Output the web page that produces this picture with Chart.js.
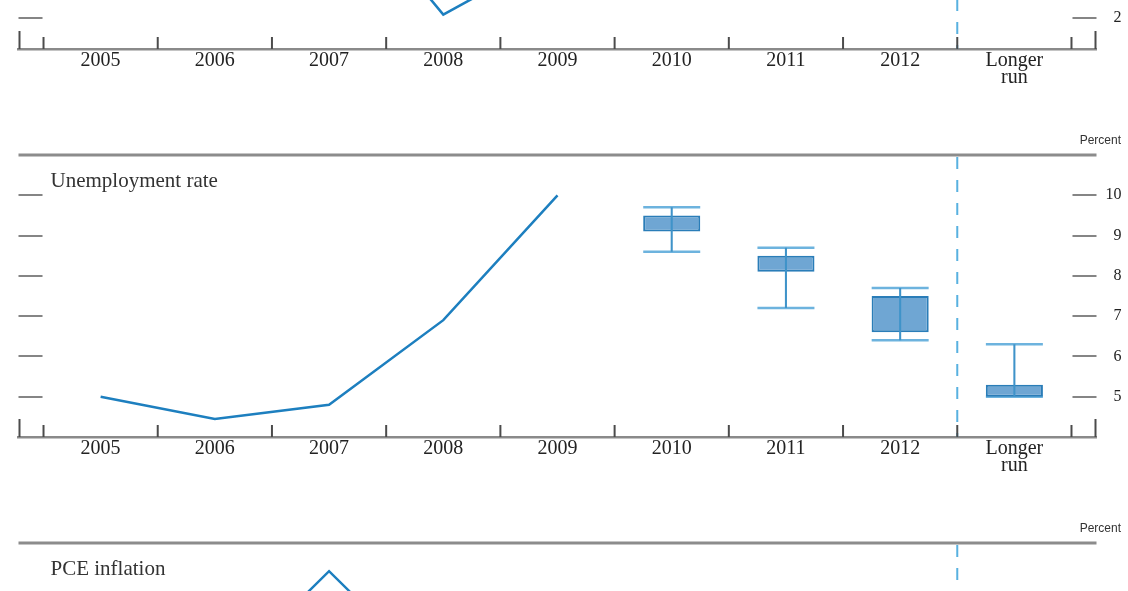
<!DOCTYPE html>
<html>
<head>
<meta charset="utf-8">
<script src="https://cdn.jsdelivr.net/npm/chart.js@4.4.1/dist/chart.umd.min.js"></script>
<style>
html, body { margin: 0; padding: 0; background: #fff; overflow: hidden; width: 1128px; height: 591px; }
canvas { position: absolute; left: 0; }
</style>
</head>
<body>
<canvas id="gdp" width="1128" height="388" style="top:-268px"></canvas>
<canvas id="unemp" width="1128" height="388" style="top:120px"></canvas>
<canvas id="pce" width="1128" height="388" style="top:508px"></canvas>
<script>
const categories = ['2005', '2006', '2007', '2008', '2009', '2010', '2011', '2012', 'Longer run'];
const projX = [5, 6, 7, 8];

// change in real GDP (only the bottom edge is in view)
const gdpHistory = [2.7, 2.4, 2.5, -1.9, 0.1];
const gdpCentralLow = [3.2, 3.4, 3.5, 2.5];
const gdpCentralHigh = [3.7, 4.5, 4.5, 2.8];
const gdpRangeLow = [2.7, 3.0, 2.8, 2.4];
const gdpRangeHigh = [4.0, 5.0, 5.0, 3.0];
const gdpTicks = [-2, -1, 0, 1, 2, 3, 4, 5];

// unemployment rate
const unempHistory = [5.0, 4.45, 4.8, 6.9, 10.0];
const unempCentralLow = [9.1, 8.1, 6.6, 5.0];
const unempCentralHigh = [9.5, 8.5, 7.5, 5.3];
const unempRangeLow = [8.6, 7.2, 6.4, 5.0];
const unempRangeHigh = [9.7, 8.7, 7.7, 6.3];
const unempTicks = [5, 6, 7, 8, 9, 10];

// PCE inflation (only the top edge is in view)
const pceHistory = [3.2, 2.0, 3.6, 2.0, 1.5];
const pceCentralLow = [1.2, 1.1, 1.2, 1.7];
const pceCentralHigh = [1.5, 1.9, 2.0, 2.0];
const pceRangeLow = [1.1, 0.9, 0.8, 1.5];
const pceRangeHigh = [2.0, 2.4, 2.3, 2.0];
const pceTicks = [1, 2, 3];

const LINE = '#1d7fbf';
const BOX_FILL = '#6fa6d3';
const BOX_EDGE = '#2a7db8';
const WHISKER = '#3f93c9';
const CAP = '#6db3de';
const SERIF = '"Liberation Serif", "Times New Roman", serif';

const decor = {
    id: 'decor',
    beforeDatasetsDraw(chart, args, opts) {
        const ctx = chart.ctx;
        const a = chart.chartArea;
        const x = chart.scales.x, y = chart.scales.y;
        const seg = (x1, y1, x2, y2) => { ctx.beginPath(); ctx.moveTo(x1, y1); ctx.lineTo(x2, y2); ctx.stroke(); };
        const first = x.getPixelForValue(-0.5);
        const last = x.getPixelForValue(categories.length - 0.5);
        ctx.save();
        ctx.lineCap = 'butt';

        // rule across the top of the panel
        ctx.strokeStyle = '#8c8c8c';
        ctx.lineWidth = 3;
        seg(a.left, a.top, a.right, a.top);

        // short dashes for the value ticks, both sides
        ctx.strokeStyle = '#858585';
        ctx.lineWidth = 2;
        y.ticks.forEach(t => {
            const py = Math.round(y.getPixelForValue(t.value));
            seg(a.left, py, first - 1, py);
            seg(last + 1, py, a.right, py);
        });

        // dashed divider before the longer run
        ctx.strokeStyle = '#58b1e0';
        ctx.setLineDash([12, 11]);
        const dx = x.getPixelForValue(categories.length - 1.5);
        seg(dx, a.top + 2, dx, a.bottom);
        ctx.setLineDash([]);

        // tick marks between the years
        ctx.strokeStyle = '#4b4b4b';
        ctx.lineWidth = 2;
        for (let i = 0; i <= categories.length; i++) {
            const px = x.getPixelForValue(i - 0.5);
            seg(px, a.bottom, px, a.bottom - 12);
        }
        seg(a.left + 1, a.bottom, a.left + 1, a.bottom - 18);
        seg(a.right - 1, a.bottom, a.right - 1, a.bottom - 18);

        // titles
        ctx.fillStyle = '#333';
        ctx.textBaseline = 'alphabetic';
        ctx.textAlign = 'left';
        ctx.font = '21px ' + SERIF;
        ctx.fillText(opts.title, a.left + 32, a.top + 32);
        ctx.font = '12px "Liberation Sans", Arial, sans-serif';
        ctx.textAlign = 'right';
        ctx.fillText('Percent', chart.width - 7, a.top - 11);
        ctx.restore();
    }
};

function panel(id, title, history, cLow, cHigh, rLow, rHigh, ticks, yMin, yMax) {
    const caps = [];
    projX.forEach((px, i) => {
        caps.push({x: px, y: rLow[i]});
        caps.push({x: px, y: rHigh[i]});
    });

    new Chart(document.getElementById(id), {
        data: {
            datasets: [
                {
                    type: 'line',
                    data: history.map((v, i) => ({x: i, y: v})),
                    borderColor: LINE,
                    borderWidth: 2.5,
                    pointRadius: 0,
                    tension: 0,
                    order: 0
                },
                {
                    type: 'bar',
                    data: rLow.map((v, i) => ({x: projX[i], y: [v, rHigh[i]]})),
                    backgroundColor: WHISKER,
                    borderWidth: 0,
                    grouped: false,
                    categoryPercentage: 1,
                    barPercentage: 0.018,
                    order: 1
                },
                {
                    type: 'bar',
                    data: cLow.map((v, i) => ({x: projX[i], y: [v, cHigh[i]]})),
                    backgroundColor: BOX_FILL,
                    borderColor: BOX_EDGE,
                    borderWidth: 2,
                    borderSkipped: false,
                    grouped: false,
                    categoryPercentage: 1,
                    barPercentage: 0.5,
                    order: 2
                },
                {
                    type: 'scatter',
                    data: caps,
                    pointStyle: 'line',
                    pointRadius: 28.5,
                    pointBorderWidth: 2.5,
                    pointBorderColor: CAP,
                    order: 3
                }
            ]
        },
        options: {
            responsive: false,
            animation: false,
            events: [],
            layout: {autoPadding: false, padding: {top: 35, bottom: 21, left: 18.5, right: 6.5}},
            plugins: {
                legend: {display: false},
                tooltip: {enabled: false},
                decor: {title: title}
            },
            scales: {
                x: {
                    type: 'linear',
                    offset: false,
                    min: -0.719,
                    max: categories.length - 0.281,
                    afterBuildTicks: s => { s.ticks = categories.map((c, i) => ({value: i})); },
                    afterFit: s => { s.height = 50; s.paddingLeft = 0; s.paddingRight = 0; },
                    grid: {display: false, drawTicks: false, offset: false},
                    border: {display: true, color: '#8a8a8a', width: 2.5},
                    ticks: {
                        padding: 3,
                        maxRotation: 0,
                        autoSkip: false,
                        color: '#222',
                        font: {family: SERIF, size: 20, lineHeight: 0.85},
                        callback: v => {
                            const c = categories[v];
                            return c && c.indexOf(' ') > 0 ? c.split(' ') : c;
                        }
                    }
                },
                y: {
                    position: 'right',
                    min: yMin,
                    max: yMax,
                    afterBuildTicks: s => { s.ticks = ticks.map(v => ({value: v})); },
                    afterFit: s => { s.width = 25; s.paddingTop = 0; s.paddingBottom = 0; },
                    grid: {display: false},
                    border: {display: false},
                    ticks: {
                        crossAlign: 'far',
                        padding: 0,
                        color: '#222',
                        font: {family: SERIF, size: 16},
                        callback: v => String(Math.abs(v))
                    }
                }
            }
        },
        plugins: [decor]
    });
}

panel('gdp', 'Change in real GDP', gdpHistory, gdpCentralLow, gdpCentralHigh, gdpRangeLow, gdpRangeHigh, gdpTicks, -3, 6);
panel('unemp', 'Unemployment rate', unempHistory, unempCentralLow, unempCentralHigh, unempRangeLow, unempRangeHigh, unempTicks, 4, 11);
panel('pce', 'PCE inflation', pceHistory, pceCentralLow, pceCentralHigh, pceRangeLow, pceRangeHigh, pceTicks, 0, 4);
</script>
</body>
</html>
